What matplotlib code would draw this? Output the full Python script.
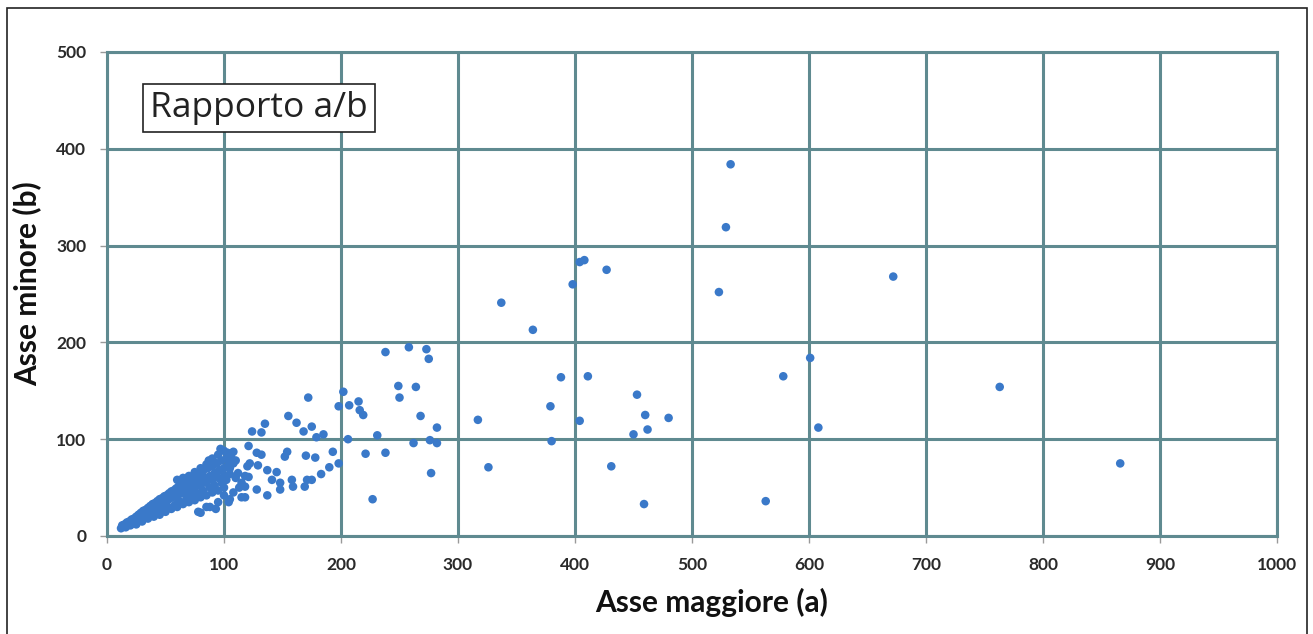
import matplotlib
matplotlib.use("Agg")
import matplotlib.pyplot as plt
from matplotlib.patches import Rectangle

# Asse maggiore (a), Asse minore (b)
cluster_a = [12,13,14,15,16,17,18,19,20,21,22,23,24,25,26,27,28,29,30,31,32,33,34,35,36,37,38,39,40,41,42,43,44,45,46,47,48,49,50,51,52,53,54,55,56,57,58,59,60,61,62,63,64,65,66,67,68,69,70,71,72,73,74,75,76,77,78,79,80,82,84,86,88,90,92,94,96,98,100,102,104,106,108,
             25,30,35,40,45,50,55,60,65,70,75,80,85,90,95,100,105,110,48,58,68,78,88,98,62,72,82,92,102,52,44,38,32,28,20,85,95,100,93,80,
             60,65,70,75,80,85,90,95,100,103,97,92,87,105,110,112,115,118,120,113,108,115,
             60,65,70,75,80,85,90,95,100,105,72]
cluster_b = [8,11,10,12,9,14,12,15,13,17,14,18,16,20,17,22,19,24,21,26,22,27,24,29,25,31,27,33,28,34,30,36,31,38,33,39,34,41,36,42,37,44,39,46,40,47,42,49,43,51,45,52,46,54,48,55,49,57,51,58,52,60,54,62,55,63,57,65,58,67,60,70,62,72,65,75,68,78,70,80,73,82,75,
             12,15,18,20,22,25,28,30,33,35,37,40,42,45,47,50,38,60,26,32,38,44,50,55,36,41,47,52,58,30,25,22,19,16,11,30,35,42,28,24,
             58,60,62,66,70,74,80,84,88,86,90,76,78,70,78,65,55,62,72,50,45,40,
             40,44,45,50,52,55,58,60,62,64,47]

mid_a = [238,258,273,275,264,249,250,202,198,207,215,219,216,268,282,172,155,162,135,124,132,168,175,179,185,231,206,262,276,282,221,238,277,227,198,193,190,183,178,170,154,152,121,128,132,122,129,137,145,141,148,158,159,171,169,175,121,118,118,128,137,148,108,105,88,78,104]
mid_b = [190,195,193,183,154,155,143,149,134,135,139,125,130,124,112,143,124,117,116,108,107,108,113,102,105,104,100,96,99,96,85,86,65,38,75,87,71,64,81,83,87,82,93,86,84,75,73,68,66,58,55,58,51,58,51,58,61,51,40,48,42,48,87,76,30,25,35]

far_a = [533,529,523,672,763,866,601,578,608,563,408,404,427,398,337,364,388,411,379,380,404,453,460,462,480,450,431,459,326,317]
far_b = [384,319,252,268,154,75,184,165,112,36,285,283,275,260,241,213,164,165,134,98,119,146,125,110,122,105,72,33,71,120]

x_ticks = [0,100,200,300,400,500,600,700,800,900,1000]
y_ticks = [0,100,200,300,400,500]

lab_font = ["Lato", "DejaVu Sans"]

fig = plt.figure(figsize=(13.13, 6.34), dpi=100)
fig.patch.set_facecolor("white")
fig.patches.append(Rectangle((7/1313, -0.05), 1300/1313, 1.05 - 8/634, transform=fig.transFigure,
                             fill=False, edgecolor="#222222", linewidth=1.2))

ax = fig.add_axes([107/1313, 1-536/634, 1170/1313, 484/634])
grid_c = "#5f8a90"
pt_c = "#3a79c9"
for arrs in [(cluster_a, cluster_b), (mid_a, mid_b), (far_a, far_b)]:
    ax.scatter(arrs[0], arrs[1], s=38, color=pt_c, edgecolors="none", zorder=3)

ax.set_xlim(0, 1000)
ax.set_ylim(0, 500)
ax.set_xticks(x_ticks)
ax.set_yticks(y_ticks)
ax.set_xticklabels([str(v) for v in x_ticks], fontsize=12.5, fontweight="bold", color="#2a2a2a", family=lab_font)
ax.set_yticklabels([str(v) for v in y_ticks], fontsize=12.5, fontweight="bold", color="#2a2a2a", family=lab_font)
ax.grid(True, color=grid_c, linewidth=2.2, zorder=1)
ax.set_axisbelow(True)
for s in ax.spines.values():
    s.set_color(grid_c)
    s.set_linewidth(2.2)
ax.tick_params(axis="both", color="#999999", length=5, width=1, pad=10)
ax.set_xlabel("Asse maggiore (a)", fontsize=21.5, fontweight="bold", color="#111111", family=lab_font)
ax.xaxis.set_label_coords(0.517, -0.108)
ax.set_ylabel("Asse minore (b)", fontsize=21.5, fontweight="bold", color="#111111", family=lab_font)
ax.yaxis.set_label_coords(-0.056, 0.522)

ax.text(0.037, 0.885, "Rapporto a/b", transform=ax.transAxes, fontsize=25.5, family=["Open Sans", "DejaVu Sans"],
        color="#222222", va="center", ha="left",
        bbox=dict(boxstyle="square,pad=0.2", facecolor="white", edgecolor="#222222", linewidth=1.2), zorder=5)

fig.savefig("out.png", dpi=100, facecolor="white")
